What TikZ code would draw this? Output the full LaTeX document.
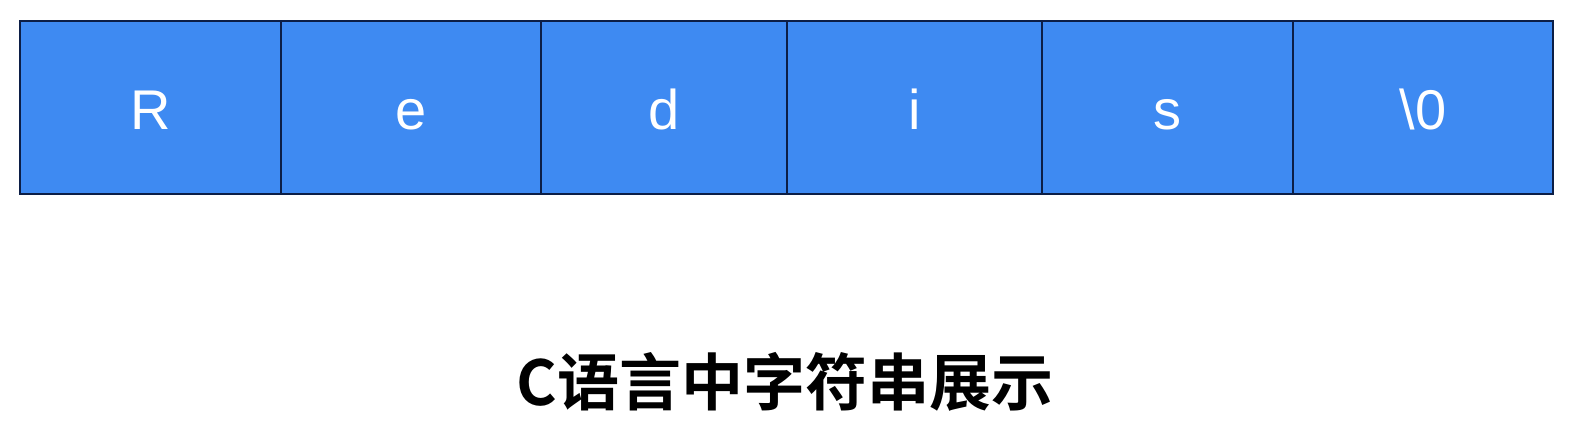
\documentclass[tikz,border=0pt]{standalone}
\usepackage{fontspec}
\setmainfont{Liberation Sans}
\newfontfamily\cjkbold{Noto Sans CJK SC Bold}
\usepackage{tikz}
\usetikzlibrary{positioning}
\usepackage{xcolor}
\definecolor{cellblue}{RGB}{62,138,242}
\definecolor{celledge}{RGB}{12,30,70}

\tikzset{
    cell/.style={draw=celledge, fill=cellblue, line width=1.6pt, minimum height=173pt, inner sep=0pt, text=white, text height=45pt, text depth=0pt, font=\fontsize{56}{66}\selectfont},
    caption/.style={font=\cjkbold\fontsize{62}{72}\selectfont, text=black}
}

\begin{document}
\begin{tikzpicture}[x=1pt, y=-1pt]
    \useasboundingbox[fill=white] (0,0) rectangle (1578,430);

    % String cells
    \node[cell, minimum width=261pt] (cR) at (150.5,107.5) {R};
    \node[cell, minimum width=260pt] (ce) at (411,107.5) {e};
    \node[cell, minimum width=246pt] (cd) at (664,107.5) {d};
    \node[cell, minimum width=255pt] (ci) at (914.5,107.5) {i};
    \node[cell, minimum width=251pt] (cs) at (1167.5,107.5) {s};
    \node[cell, minimum width=260pt] (cnul) at (1423,107.5) {\textbackslash 0};

    % Caption
    \node[caption] (title) at (785,382) {C语言中字符串展示};
\end{tikzpicture}
\end{document}
